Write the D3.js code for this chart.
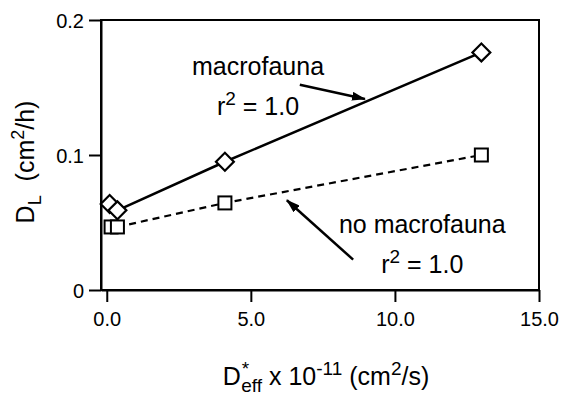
<!DOCTYPE html>
<html>
<head>
<meta charset="utf-8">
<script src="https://cdn.jsdelivr.net/npm/d3@7"></script>
<style>
  body { margin: 0; background: #fff; }
  svg text { font-family: "Liberation Sans", Arial, Helvetica, sans-serif; fill: #000; }
</style>
</head>
<body>
<svg id="chart" width="562" height="397"></svg>
<script>
// values
var xMacro = [0.1, 0.37, 4.1, 13.0],
    yMacro = [0.0637, 0.059, 0.095, 0.176];
var xNoMacro = [0.15, 0.37, 4.1, 13.0],
    yNoMacro = [0.0467, 0.0467, 0.0645, 0.100];
var xTicks = [0, 5, 10, 15],
    xTickLabels = ["0.0", "5.0", "10.0", "15.0"];
var yTicks = [0, 0.1, 0.2],
    yTickLabels = ["0", "0.1", "0.2"];

var svg = d3.select("svg#chart"),
    plotL = 101, plotR = 539, plotT = 20, plotB = 290;

var x = d3.scaleLinear().domain([-0.2, 15]).range([plotL, plotR]);
var y = d3.scaleLinear().domain([0, 0.2]).range([plotB, plotT]);

// frame
svg.append("rect")
    .attr("x", plotL).attr("y", plotT)
    .attr("width", plotR - plotL).attr("height", plotB - plotT)
    .attr("fill", "none").attr("stroke", "#000").attr("stroke-width", 2);

// axes
var xAxis = d3.axisBottom(x).tickValues(xTicks)
    .tickFormat(function(d, i) { return xTickLabels[i]; })
    .tickSize(12).tickSizeOuter(0).tickPadding(10);
var gx = svg.append("g").attr("transform", "translate(0," + plotB + ")").call(xAxis);

var yAxis = d3.axisLeft(y).tickValues(yTicks)
    .tickFormat(function(d, i) { return yTickLabels[i]; })
    .tickSize(12).tickSizeOuter(0).tickPadding(5);
var gy = svg.append("g").attr("transform", "translate(" + plotL + ",0)").call(yAxis);

[gx, gy].forEach(function(g) {
  g.attr("font-size", 20).attr("font-family", null);
  g.select(".domain").attr("stroke-width", 2);
  g.selectAll(".tick line").attr("stroke-width", 2);
  g.selectAll(".tick text").attr("fill", "#000");
});
gy.selectAll(".tick text").attr("dy", "0.35em");

// lines
var line = d3.line()
    .x(function(d) { return x(d[0]); })
    .y(function(d) { return y(d[1]); });

var macro = d3.zip(xMacro, yMacro),
    noMacro = d3.zip(xNoMacro, yNoMacro);

svg.append("path")
    .attr("d", line(noMacro.slice(1)))
    .attr("fill", "none").attr("stroke", "#000")
    .attr("stroke-width", 2.2).attr("stroke-dasharray", "7,5");

svg.append("path")
    .attr("d", line(macro.slice(1)))
    .attr("fill", "none").attr("stroke", "#000").attr("stroke-width", 2.5);

// markers
svg.selectAll(".sq")
    .data(noMacro)
  .enter().append("rect")
    .attr("class", "sq")
    .attr("x", function(d) { return x(d[0]) - 6.5; })
    .attr("y", function(d) { return y(d[1]) - 6.5; })
    .attr("width", 13).attr("height", 13)
    .attr("fill", "#fff").attr("stroke", "#000").attr("stroke-width", 2);

var diamond = d3.symbol().type(d3.symbolSquare).size(160);
svg.selectAll(".dm")
    .data(macro)
  .enter().append("path")
    .attr("class", "dm")
    .attr("d", diamond)
    .attr("transform", function(d) { return "translate(" + x(d[0]) + "," + y(d[1]) + ") rotate(45)"; })
    .attr("fill", "#fff").attr("stroke", "#000").attr("stroke-width", 2.2);

// annotations
svg.append("defs").append("marker")
    .attr("id", "head")
    .attr("viewBox", "0 0 14 9")
    .attr("refX", 13).attr("refY", 4.5)
    .attr("markerWidth", 5.6).attr("markerHeight", 3.6)
    .attr("markerUnits", "strokeWidth")
    .attr("orient", "auto")
  .append("path")
    .attr("d", "M0,0L14,4.5L0,9Z").attr("fill", "#000");

var arrows = [
  [[6.7, 0.152], [8.96, 0.1415]],
  [[8.55, 0.0225], [6.25, 0.0665]]
];
svg.selectAll(".arrow")
    .data(arrows)
  .enter().append("line")
    .attr("class", "arrow")
    .attr("x1", function(d) { return x(d[0][0]); })
    .attr("y1", function(d) { return y(d[0][1]); })
    .attr("x2", function(d) { return x(d[1][0]); })
    .attr("y2", function(d) { return y(d[1][1]); })
    .attr("stroke", "#000").attr("stroke-width", 2.5)
    .attr("marker-end", "url(#head)");

function label(cx, cy, name) {
  svg.append("text")
      .attr("x", x(cx)).attr("y", y(cy))
      .attr("text-anchor", "middle").attr("font-size", 25)
      .text(name);
  var r = svg.append("text")
      .attr("x", x(cx)).attr("y", y(cy) + 40)
      .attr("text-anchor", "middle").attr("font-size", 25);
  r.append("tspan").text("r");
  r.append("tspan").attr("font-size", 19).attr("dy", -10).text("2");
  r.append("tspan").attr("dy", 10).text(" = 1.0");
}
label(5.25, 0.1593, "macrofauna");
label(10.95, 0.0422, "no macrofauna");

// axis titles
var xt = svg.append("text")
    .attr("x", 326).attr("y", 385)
    .attr("text-anchor", "middle").attr("font-size", 25);
xt.append("tspan").text("D");
xt.append("tspan").attr("font-size", 19).attr("dx", 1).attr("dy", -10).text("*");
xt.append("tspan").attr("font-size", 19).attr("dx", -8).attr("dy", 17).text("eff");
xt.append("tspan").attr("dy", -7).text(" x 10");
xt.append("tspan").attr("font-size", 19).attr("dy", -10).text("-11");
xt.append("tspan").attr("dy", 10).text(" (cm");
xt.append("tspan").attr("font-size", 19).attr("dy", -10).text("2");
xt.append("tspan").attr("dy", 10).text("/s)");

var yt = svg.append("text")
    .attr("transform", "translate(34,162) rotate(-90)")
    .attr("text-anchor", "middle").attr("font-size", 25);
yt.append("tspan").text("D");
yt.append("tspan").attr("font-size", 18).attr("dy", 7).text("L");
yt.append("tspan").attr("dy", -7).text("\u00a0\u00a0(cm");
yt.append("tspan").attr("font-size", 18).attr("dy", -10).text("2");
yt.append("tspan").attr("dy", 10).text("/h)");
</script>
</body>
</html>
